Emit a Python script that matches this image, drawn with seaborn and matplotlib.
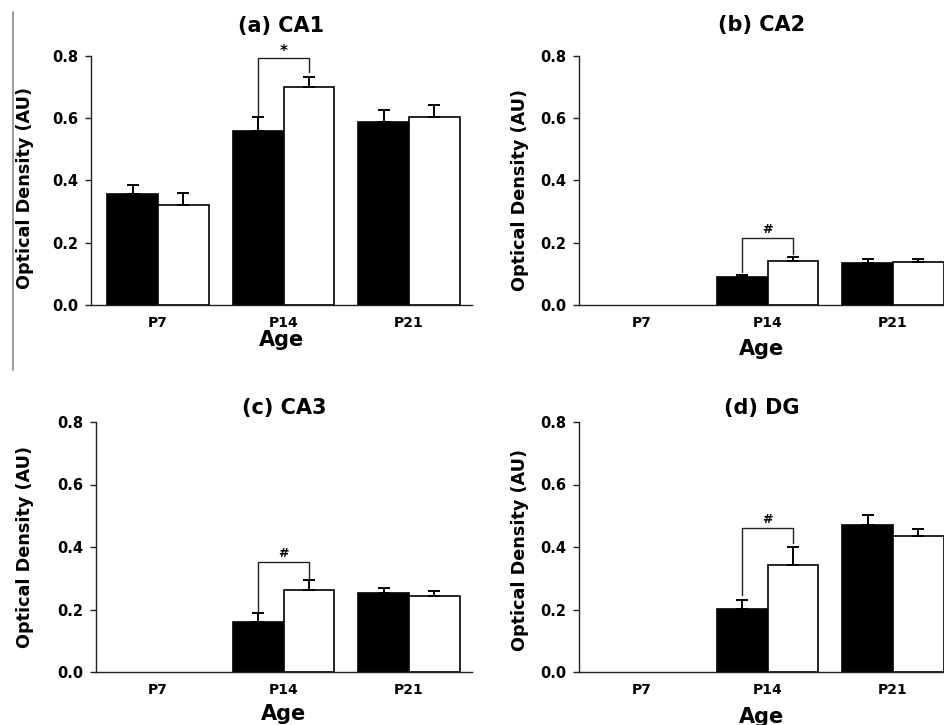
import numpy as np
import pandas as pd
import matplotlib
matplotlib.use("Agg")
import matplotlib.pyplot as plt
from matplotlib.lines import Line2D
import seaborn as sns

sns.set_theme(style="ticks")
plt.rcParams["font.family"] = ["DejaVu Sans"]
plt.rcParams["font.weight"] = "bold"
plt.rcParams["text.color"] = "black"
plt.rcParams["axes.labelcolor"] = "black"
plt.rcParams["xtick.color"] = "black"
plt.rcParams["ytick.color"] = "black"

ages = ["P7", "P14", "P21"]
groups = ["Group 1", "Group 2"]
nan = np.nan

ca1_g1 = [0.356, 0.559, 0.587]
ca1_g1_err = [0.028, 0.044, 0.039]
ca1_g2 = [0.322, 0.699, 0.605]
ca1_g2_err = [0.039, 0.035, 0.039]

ca2_g1 = [nan, 0.090, 0.136]
ca2_g1_err = [nan, 0.007, 0.012]
ca2_g2 = [nan, 0.140, 0.137]
ca2_g2_err = [nan, 0.014, 0.010]

ca3_g1 = [nan, 0.161, 0.254]
ca3_g1_err = [nan, 0.027, 0.015]
ca3_g2 = [nan, 0.261, 0.243]
ca3_g2_err = [nan, 0.032, 0.015]

dg_g1 = [nan, 0.203, 0.472]
dg_g1_err = [nan, 0.029, 0.031]
dg_g2 = [nan, 0.343, 0.435]
dg_g2_err = [nan, 0.057, 0.023]

titles = ["(a) CA1", "(b) CA2", "(c) CA3", "(d) DG"]
# significance brackets: (bracket height, left leg end, right leg end, symbol)
brackets = [
    (0.792, 0.607, 0.750, "*"),
    (0.215, 0.107, 0.164, "#"),
    (0.352, 0.191, 0.298, "#"),
    (0.460, 0.245, 0.414, "#"),
]

panels = [
    (ca1_g1, ca1_g1_err, ca1_g2, ca1_g2_err),
    (ca2_g1, ca2_g1_err, ca2_g2, ca2_g2_err),
    (ca3_g1, ca3_g1_err, ca3_g2, ca3_g2_err),
    (dg_g1, dg_g1_err, dg_g2, dg_g2_err),
]

W, H = 944, 725
fig = plt.figure(figsize=(W / 100, H / 100), dpi=100)
fig.patch.set_facecolor("white")

# axes rectangles in pixels: left, right, bottom(y of 0), top(y of 0.8)
rects_px = [
    (91, 472, 305, 56),
    (579, 944, 305, 56),
    (96, 472, 672, 422),
    (579, 944, 672, 422),
]
title_pads = [17, 18, 6, 6]
ylabel_coords = [(-0.150, 0.468), (-0.138, 0.46), (-0.165, 0.50), (-0.138, 0.488)]
xlabel_coords = [(0.5, -0.10), (0.5, -0.135), (0.5, -0.13), (0.5, -0.14)]
spacing = 125.5
centers_px = [158, 642, 158, 642]

bw = 0.81
for k, (rect, (g1, e1, g2, e2)) in enumerate(zip(rects_px, panels)):
    l, r, b, t = rect
    ax = fig.add_axes([l / W, 1 - b / H, (r - l) / W, (b - t) / H])
    rows = []
    for i, a in enumerate(ages):
        if not np.isnan(g1[i]):
            rows.append({"Age": a, "Group": groups[0], "OD": g1[i]})
        if not np.isnan(g2[i]):
            rows.append({"Age": a, "Group": groups[1], "OD": g2[i]})
    df = pd.DataFrame(rows)
    sns.barplot(data=df, x="Age", y="OD", hue="Group", order=ages,
                hue_order=groups, palette={groups[0]: "black", groups[1]: "white"},
                edgecolor="black", linewidth=1.2, width=bw, saturation=1,
                errorbar=None, legend=False, ax=ax, zorder=2)
    off = bw / 4
    x = np.arange(len(ages))
    for vals, errs, sgn in [(g1, e1, -1), (g2, e2, 1)]:
        v = np.array(vals, dtype=float)
        e = np.array(errs, dtype=float)
        m = ~np.isnan(v)
        ax.errorbar(x[m] + sgn * off, v[m], yerr=[np.zeros(m.sum()), e[m]],
                    fmt="none", ecolor="black", elinewidth=1.4, capsize=4,
                    capthick=1.4, zorder=3)
    # bracket at P14
    yb, yl, yr, sym = brackets[k]
    xl, xr = 1 - off, 1 + off
    ax.plot([xl, xl, xr, xr], [yl, yb, yb, yr], color="#222222", lw=1.0,
            clip_on=False, zorder=4)
    if sym == "*":
        ax.text(1, yb + 0.022, sym, ha="center", va="center", fontsize=11,
                fontweight="bold", color="black", clip_on=False)
    else:
        ax.text(1, yb + 0.027, sym, ha="center", va="center", fontsize=9,
                fontweight="bold", color="black", clip_on=False)

    c = centers_px[k]
    ax.set_xlim((l - c) / spacing, (r - c) / spacing)
    ax.set_ylim(0, 0.8)
    ax.set_yticks([0.0, 0.2, 0.4, 0.6, 0.8])
    ax.set_yticklabels(["0.0", "0.2", "0.4", "0.6", "0.8"])
    ax.tick_params(axis="y", direction="out", length=4, width=1, labelsize=10.5,
                   color="#222222", pad=5)
    ax.tick_params(axis="x", length=0, labelsize=10, pad=8)
    for lab in ax.get_xticklabels() + ax.get_yticklabels():
        lab.set_fontweight("bold")
    ax.set_xlabel("Age", fontsize=15, fontweight="bold")
    ax.set_ylabel("Optical Density (AU)", fontsize=12.7, fontweight="bold")
    ax.yaxis.set_label_coords(*ylabel_coords[k])
    ax.xaxis.set_label_coords(*xlabel_coords[k])
    ax.set_title(titles[k], fontsize=15, fontweight="bold", pad=title_pads[k])
    for s in ["top", "right"]:
        ax.spines[s].set_visible(False)
    for s in ["left", "bottom"]:
        ax.spines[s].set_color("#222222")
        ax.spines[s].set_linewidth(1.0)
    ax.set_facecolor("white")

# page artifact line at left
fig.add_artist(Line2D([13 / W, 13 / W], [1 - 12 / H, 1 - 370 / H],
                      color="#888888", lw=1.2))

fig.savefig("out.png", dpi=100, facecolor="white")
